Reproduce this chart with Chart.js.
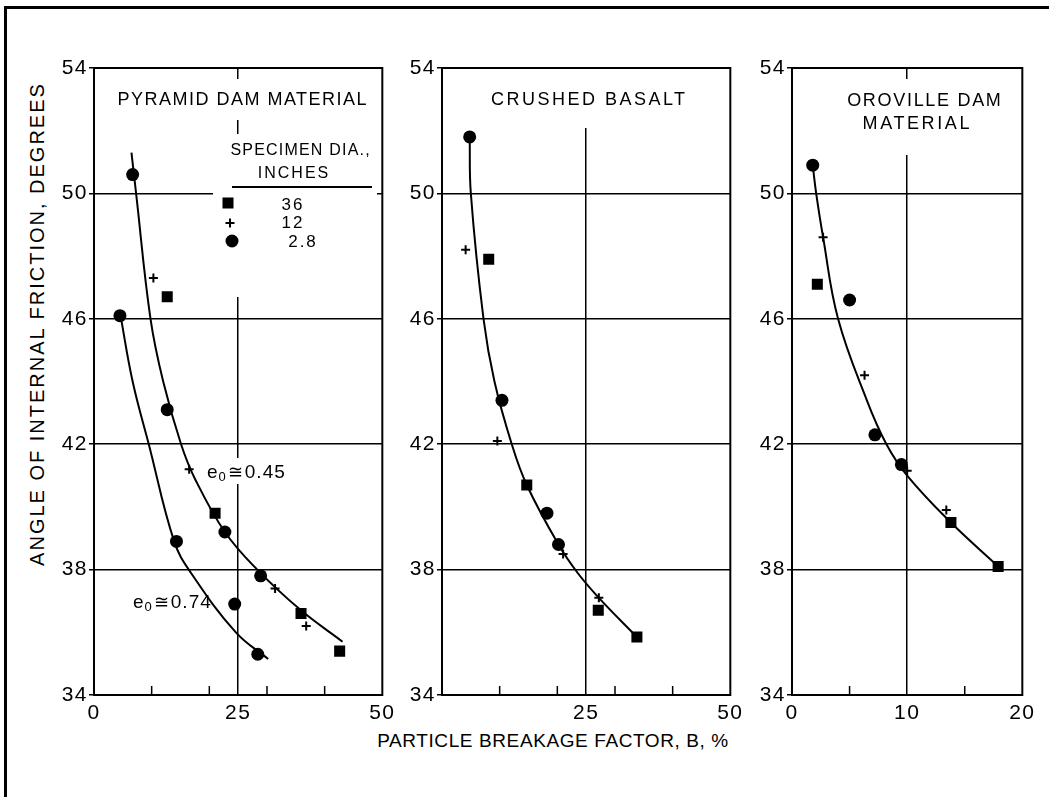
<!DOCTYPE html>
<html>
<head>
<meta charset="utf-8">
<title>Angle of internal friction vs particle breakage factor</title>
<script src="https://cdn.jsdelivr.net/npm/chart.js@4.4.1/dist/chart.umd.min.js"></script>
<style>
  html, body { margin: 0; padding: 0; background: #fff; }
  body { width: 1049px; height: 797px; position: relative; overflow: hidden;
         font-family: "Liberation Sans", Arial, sans-serif; color: #000; }
  .frame { position: absolute; left: 4px; top: 6px; right: -10px; bottom: -10px;
           border-top: 3px solid #000; border-left: 3px solid #000; }
  canvas { position: absolute; }
  #ytitle { position: absolute; left: 37px; top: 324px; width: 0; height: 0; }
  #ytitle span { position: absolute; left: 0; top: 0; white-space: nowrap;
                 font-size: 20px; letter-spacing: 2px;
                 transform: translate(-50%, -50%) rotate(-90deg); }
  #xtitle { position: absolute; left: 553px; top: 741px; width: 0; height: 0; }
  #xtitle span { position: absolute; left: 0; top: 0; white-space: nowrap;
                 font-size: 19px; letter-spacing: 0.6px;
                 transform: translate(-50%, -50%); }
</style>
</head>
<body>
<div class="frame"></div>
<canvas id="p1" width="346" height="671" style="left:54px;top:54px"></canvas>
<canvas id="p2" width="346" height="671" style="left:402px;top:54px"></canvas>
<canvas id="p3" width="288" height="671" style="left:752px;top:54px"></canvas>
<div id="ytitle"><span>ANGLE OF INTERNAL FRICTION, DEGREES</span></div>
<div id="xtitle"><span>PARTICLE BREAKAGE FACTOR, B, %</span></div>

<script>
// ---- Angle of internal friction (degrees) against breakage factor B (%) ----
// Specimen diameters: 36 in (squares), 12 in (plus), 2.8 in (circles)

const yTicks = [34, 38, 42, 46, 50, 54];

// Pyramid Dam material
const pyrTickValues = [0, 10, 20, 25, 30, 40, 50];
const pyrTickLabels = [0, 25, 50];
const pyr36 = [[12.7, 46.7], [21.0, 39.8], [35.9, 36.6], [42.6, 35.4]];
const pyr12 = [[10.3, 47.3], [16.5, 41.2], [31.4, 37.4], [36.8, 36.2]];
const pyr28 = [[6.7, 50.6], [4.5, 46.1], [12.7, 43.1], [22.7, 39.2], [14.3, 38.9],
               [28.9, 37.8], [24.4, 36.9], [28.4, 35.3]];
const pyrCurve045 = [[6.5, 51.3], [7.3, 50.0], [9.8, 46.0], [12.0, 44.0], [15.1, 42.0],
                     [17.5, 40.9], [22.7, 39.2], [28.3, 38.0], [35.9, 36.7], [43.1, 35.7]];
const pyrCurve074 = [[4.6, 46.1], [6.7, 44.0], [9.5, 42.0], [13.9, 38.9], [16.8, 37.9],
                     [24.6, 36.0], [30.2, 35.15]];

// Crushed basalt
const basTickValues = [0, 10, 20, 25, 30, 40, 50];
const basTickLabels = [25, 50];
const bas36 = [[8.1, 47.9], [14.7, 40.7], [27.1, 36.7], [33.8, 35.85]];
const bas12 = [[4.1, 48.2], [9.6, 42.1], [21.0, 38.5], [27.2, 37.1]];
const bas28 = [[4.8, 51.8], [10.4, 43.4], [18.2, 39.8], [20.2, 38.8]];
const basCurve = [[4.8, 51.8], [5.0, 50.0], [7.2, 46.0], [9.1, 44.0], [12.1, 42.0],
                  [14.7, 40.7], [20.2, 38.8], [23.5, 37.9], [27.2, 37.1], [33.8, 35.85]];

// Oroville Dam material
const oroTickValues = [0, 5, 10, 15, 20];
const oroTickLabels = [0, 10, 20];
const oro36 = [[2.2, 47.1], [13.8, 39.5], [17.9, 38.1]];
const oro12 = [[2.7, 48.6], [6.3, 44.2], [10.0, 41.15], [13.4, 39.9]];
const oro28 = [[1.8, 50.9], [5.0, 46.6], [7.2, 42.3], [9.5, 41.35]];
const oroCurve = [[1.8, 50.9], [2.1, 50.0], [2.7, 48.6], [4.0, 46.0], [6.5, 43.4],
                  [8.2, 42.0], [10.0, 41.0], [13.8, 39.5], [17.9, 38.1]];

const FONT = '"Liberation Sans", Arial, sans-serif';
const toXY = arr => arr.map(p => ({ x: p[0], y: p[1] }));

function marker(ctx, kind, x, y) {
  ctx.save();
  ctx.fillStyle = '#000'; ctx.strokeStyle = '#000';
  if (kind === 'rect') { ctx.fillRect(x - 5.5, y - 5.5, 11, 11); }
  else if (kind === 'circle') { ctx.beginPath(); ctx.arc(x, y, 6.5, 0, Math.PI * 2); ctx.fill(); }
  else { ctx.lineWidth = 2; ctx.beginPath();
         ctx.moveTo(x - 4.5, y); ctx.lineTo(x + 4.5, y);
         ctx.moveTo(x, y - 4.5); ctx.lineTo(x, y + 4.5); ctx.stroke(); }
  ctx.restore();
}

// void ratio label: e with subscript 0, then "≅ value"
function voidRatio(ctx, x, y, value) {
  ctx.textAlign = 'left'; ctx.textBaseline = 'alphabetic';
  ctx.letterSpacing = '0px';
  ctx.font = '19px ' + FONT;
  ctx.fillText('e', x, y);
  let w = ctx.measureText('e').width + 1;
  ctx.font = '13px ' + FONT;
  ctx.fillText('0', x + w, y + 3);
  w += ctx.measureText('0').width + 2;
  ctx.font = '18px ' + FONT;
  ctx.fillText('\u2245', x + w, y);
  w += ctx.measureText('\u2245').width + 2;
  ctx.letterSpacing = '1px';
  ctx.font = '19px ' + FONT;
  ctx.fillText(value, x + w, y);
}

const panelDeco = {
  id: 'panelDeco',
  beforeDraw(chart) {
    chart.ctx.letterSpacing = '1.5px';
  },
  beforeDatasetsDraw(chart, args, o) {
    const { ctx, chartArea: a, scales } = chart;
    ctx.save();
    // blank the grid where lettering sits
    ctx.fillStyle = '#fff';
    (o.masks || []).forEach(m => ctx.fillRect(a.left + m[0], a.top + m[1], m[2] - m[0], m[3] - m[1]));
    // plot frame
    ctx.strokeStyle = '#000'; ctx.lineWidth = 2;
    ctx.strokeRect(a.left, a.top, a.right - a.left, a.bottom - a.top);
    // inward ticks on the B axis
    ctx.lineWidth = 1.5; ctx.beginPath();
    (o.minor || []).forEach(v => {
      const x = scales.x.getPixelForValue(v);
      ctx.moveTo(x, a.bottom); ctx.lineTo(x, a.bottom - 9);
    });
    ctx.stroke();
    // panel lettering
    ctx.fillStyle = '#000'; ctx.textAlign = 'center'; ctx.textBaseline = 'middle';
    (o.texts || []).forEach(t => {
      ctx.font = t.size + 'px ' + FONT;
      ctx.letterSpacing = t.ls + 'px';
      ctx.fillText(t.s, a.left + t.x + t.ls / 2, a.top + t.y);
    });
    (o.voids || []).forEach(v => voidRatio(ctx, a.left + v.x, a.top + v.y, v.s));
    if (o.key) {
      const k = o.key;
      ctx.lineWidth = 2; ctx.beginPath();
      ctx.moveTo(a.left + k.rule[0], a.top + k.rule[2]);
      ctx.lineTo(a.left + k.rule[1], a.top + k.rule[2]);
      ctx.stroke();
      k.rows.forEach(r => {
        marker(ctx, r.kind, a.left + r.mx, a.top + r.my);
        ctx.textAlign = 'center'; ctx.textBaseline = 'middle';
        ctx.font = '17px ' + FONT; ctx.letterSpacing = '2px';
        ctx.fillText(r.s, a.left + r.tx + 1, a.top + r.ty);
      });
    }
    ctx.restore();
  }
};

function makePanel(id, p) {
  const datasets = [];
  p.curves.forEach(c => datasets.push({
    data: toXY(c), showLine: true, borderColor: '#000', borderWidth: 2,
    pointRadius: 0, tension: 0.4, fill: false
  }));
  datasets.push({ data: toXY(p.sq), pointStyle: 'rect', pointRadius: 7.8,
    pointBackgroundColor: '#000', pointBorderColor: '#000', pointBorderWidth: 0, showLine: false });
  datasets.push({ data: toXY(p.plus), pointStyle: 'cross', pointRadius: 4.5,
    pointBorderColor: '#000', pointBorderWidth: 2, showLine: false });
  datasets.push({ data: toXY(p.circ), pointStyle: 'circle', pointRadius: 6.5,
    pointBackgroundColor: '#000', pointBorderColor: '#000', pointBorderWidth: 0, showLine: false });

  return new Chart(document.getElementById(id), {
    type: 'scatter',
    data: { datasets },
    options: {
      responsive: false, animation: false, events: [],
      layout: { padding: { left: 0, top: 14, right: 16, bottom: 0 } },
      plugins: { legend: { display: false }, tooltip: { enabled: false }, panelDeco: p.deco },
      scales: {
        x: {
          type: 'linear', min: 0, max: p.xmax,
          afterBuildTicks: s => { s.ticks = p.tickValues.map(v => ({ value: v })); },
          afterFit: s => { s.height = 30; },
          ticks: {
            autoSkip: false, maxRotation: 0, padding: 6, color: '#000',
            font: { family: FONT, size: 21 },
            callback: v => p.tickLabels.includes(v) ? String(v) : ''
          },
          grid: {
            drawTicks: false, lineWidth: 1.5,
            color: c => (c.tick && c.tick.value === p.midLine) ? '#000' : 'rgba(0,0,0,0)'
          },
          border: { display: false }
        },
        y: {
          min: 34, max: 54,
          afterBuildTicks: s => { s.ticks = yTicks.map(v => ({ value: v })); },
          afterFit: s => { s.width = 40; },
          ticks: { padding: 1, color: '#000', font: { family: FONT, size: 21 } },
          grid: {
            lineWidth: 1.5, tickLength: 5, tickColor: '#000',
            color: c => (c.tick && (c.tick.value === 34 || c.tick.value === 54)) ? 'rgba(0,0,0,0)' : '#000'
          },
          border: { display: false }
        }
      }
    },
    plugins: [panelDeco]
  });
}

makePanel('p1', {
  xmax: 50, tickValues: pyrTickValues, tickLabels: pyrTickLabels, midLine: 25,
  curves: [pyrCurve045, pyrCurve074], sq: pyr36, plus: pyr12, circ: pyr28,
  deco: {
    minor: [10, 20, 30, 40],
    masks: [[17, 11, 280, 52], [119, 66, 283, 229], [109, 390, 196, 416]],
    texts: [
      { s: 'PYRAMID DAM MATERIAL', x: 148, y: 32, size: 18, ls: 1.5 },
      { s: 'SPECIMEN DIA.,', x: 206, y: 83, size: 16, ls: 1.2 },
      { s: 'INCHES', x: 199, y: 106, size: 16, ls: 2 }
    ],
    voids: [{ s: '0.45', x: 113, y: 410 }, { s: '0.74', x: 39, y: 540 }],
    key: {
      rule: [138, 278, 119],
      rows: [
        { kind: 'rect', mx: 134, my: 135, s: '36', tx: 198, ty: 137 },
        { kind: 'cross', mx: 136, my: 155, s: '12', tx: 198, ty: 155.5 },
        { kind: 'circle', mx: 138, my: 173, s: '2.8', tx: 208, ty: 174 }
      ]
    }
  }
});

makePanel('p2', {
  xmax: 50, tickValues: basTickValues, tickLabels: basTickLabels, midLine: 25,
  curves: [basCurve], sq: bas36, plus: bas12, circ: bas28,
  deco: {
    minor: [10, 20, 30, 40],
    masks: [[38, 1, 254, 60]],
    texts: [{ s: 'CRUSHED BASALT', x: 146, y: 32, size: 18, ls: 2.5 }]
  }
});

makePanel('p3', {
  xmax: 20, tickValues: oroTickValues, tickLabels: oroTickLabels, midLine: 10,
  curves: [oroCurve], sq: oro36, plus: oro12, circ: oro28,
  deco: {
    minor: [5, 15],
    masks: [[48, 11, 216, 87]],
    texts: [
      { s: 'OROVILLE DAM', x: 132, y: 33, size: 18, ls: 1.7 },
      { s: 'MATERIAL', x: 124, y: 56, size: 18, ls: 2.6 }
    ]
  }
});
</script>
</body>
</html>
